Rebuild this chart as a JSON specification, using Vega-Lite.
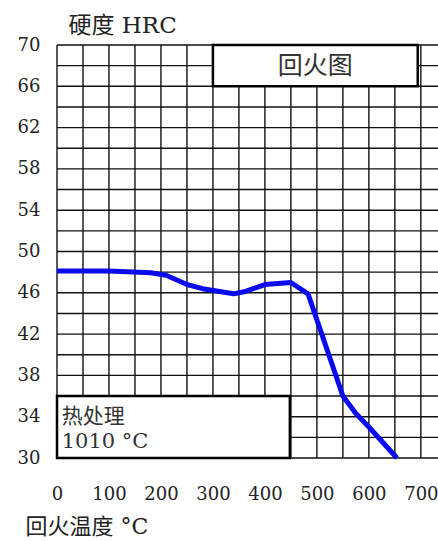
{
  "$schema": "https://vega.github.io/schema/vega-lite/v6.json",
  "width": 381,
  "height": 413,
  "autosize": "none",
  "padding": {"left": 57, "top": 45, "right": 0, "bottom": 83},
  "background": "white",
  "config": {"view": {"stroke": null}, "font": "DejaVu Serif, Noto Sans CJK SC"},
  "datasets": {
    "curve": [
      {"temp": 0, "hrc": 48.1},
      {"temp": 100, "hrc": 48.1},
      {"temp": 180, "hrc": 47.95},
      {"temp": 210, "hrc": 47.7},
      {"temp": 250, "hrc": 46.8},
      {"temp": 280, "hrc": 46.4},
      {"temp": 340, "hrc": 45.9},
      {"temp": 360, "hrc": 46.1},
      {"temp": 400, "hrc": 46.8},
      {"temp": 450, "hrc": 47.0},
      {"temp": 483, "hrc": 45.9},
      {"temp": 550, "hrc": 36.0},
      {"temp": 575, "hrc": 34.3},
      {"temp": 600, "hrc": 33.0},
      {"temp": 654, "hrc": 30.0}
    ],
    "vgrid": [
      {"temp": 0}, {"temp": 50}, {"temp": 100}, {"temp": 150}, {"temp": 200},
      {"temp": 250}, {"temp": 300}, {"temp": 350}, {"temp": 400}, {"temp": 450},
      {"temp": 500}, {"temp": 550}, {"temp": 600}, {"temp": 650}, {"temp": 700}
    ],
    "hgrid": [
      {"hrc": 30}, {"hrc": 32}, {"hrc": 34}, {"hrc": 36}, {"hrc": 38}, {"hrc": 40},
      {"hrc": 42}, {"hrc": 44}, {"hrc": 46}, {"hrc": 48}, {"hrc": 50}, {"hrc": 52},
      {"hrc": 54}, {"hrc": 56}, {"hrc": 58}, {"hrc": 60}, {"hrc": 62}, {"hrc": 64},
      {"hrc": 66}, {"hrc": 68}, {"hrc": 70}
    ],
    "boxes": [
      {"t1": 300, "t2": 694, "h1": 66, "h2": 70},
      {"t1": 0, "t2": 448, "h1": 30, "h2": 36}
    ],
    "centered": [
      {"temp": 497, "hrc": 68, "label": "回火图"}
    ],
    "lefttext": [
      {"temp": 9, "hrc": 34.0, "label": "热处理"},
      {"temp": 9, "hrc": 31.55, "label": "1010 °C"}
    ]
  },
  "layer": [
    {
      "data": {"name": "vgrid"},
      "mark": {"type": "rule", "color": "#111", "strokeWidth": 1.4},
      "encoding": {
        "x": {
          "field": "temp", "type": "quantitative",
          "scale": {"domain": [0, 733], "nice": false, "zero": false},
          "axis": {
            "values": [0, 100, 200, 300, 400, 500, 600, 700],
            "grid": false, "domain": false, "ticks": false,
            "labelPadding": 27, "labelFont": "DejaVu Serif", "labelFontSize": 18,
            "labelColor": "#222", "labelFlush": false, "labelOverlap": false,
            "title": "回火温度 °C", "titleFont": "DejaVu Serif, Noto Sans CJK SC",
            "titleFontSize": 22, "titleFontWeight": "normal", "titleColor": "#222",
            "titleX": -32, "titleY": 68, "titleAlign": "left", "titleBaseline": "middle"
          }
        }
      }
    },
    {
      "data": {"name": "hgrid"},
      "mark": {"type": "rule", "color": "#111", "strokeWidth": 1.4},
      "encoding": {
        "y": {
          "field": "hrc", "type": "quantitative",
          "scale": {"domain": [30, 70], "nice": false, "zero": false},
          "axis": {
            "values": [30, 34, 38, 42, 46, 50, 54, 58, 62, 66, 70],
            "grid": false, "domain": false, "ticks": false,
            "labelPadding": 17, "labelFont": "DejaVu Serif", "labelFontSize": 18,
            "labelColor": "#222", "labelFlush": false, "labelOverlap": false,
            "title": "硬度 HRC", "titleFont": "DejaVu Serif, Noto Sans CJK SC",
            "titleFontSize": 23, "titleFontWeight": "normal", "titleColor": "#222",
            "titleAngle": 0, "titleX": 11, "titleY": -20, "titleAlign": "left", "titleBaseline": "middle"
          }
        }
      }
    },
    {
      "data": {"name": "boxes"},
      "mark": {"type": "rect", "fill": "white", "stroke": "black", "strokeWidth": 2.5},
      "encoding": {
        "x": {"field": "t1", "type": "quantitative"},
        "x2": {"field": "t2"},
        "y": {"field": "h1", "type": "quantitative"},
        "y2": {"field": "h2"}
      }
    },
    {
      "data": {"name": "curve"},
      "mark": {"type": "line", "color": "#0a0af0", "strokeWidth": 5, "interpolate": "linear", "strokeJoin": "round"},
      "encoding": {
        "x": {"field": "temp", "type": "quantitative"},
        "y": {"field": "hrc", "type": "quantitative"}
      }
    },
    {
      "data": {"name": "centered"},
      "mark": {"type": "text", "align": "center", "baseline": "middle", "fontSize": 25, "color": "#333", "font": "Noto Sans CJK SC"},
      "encoding": {
        "x": {"field": "temp", "type": "quantitative"},
        "y": {"field": "hrc", "type": "quantitative"},
        "text": {"field": "label"}
      }
    },
    {
      "data": {"name": "lefttext"},
      "mark": {"type": "text", "align": "left", "baseline": "middle", "fontSize": 21, "color": "#333", "font": "DejaVu Serif, Noto Sans CJK SC"},
      "encoding": {
        "x": {"field": "temp", "type": "quantitative"},
        "y": {"field": "hrc", "type": "quantitative"},
        "text": {"field": "label"}
      }
    }
  ]
}
